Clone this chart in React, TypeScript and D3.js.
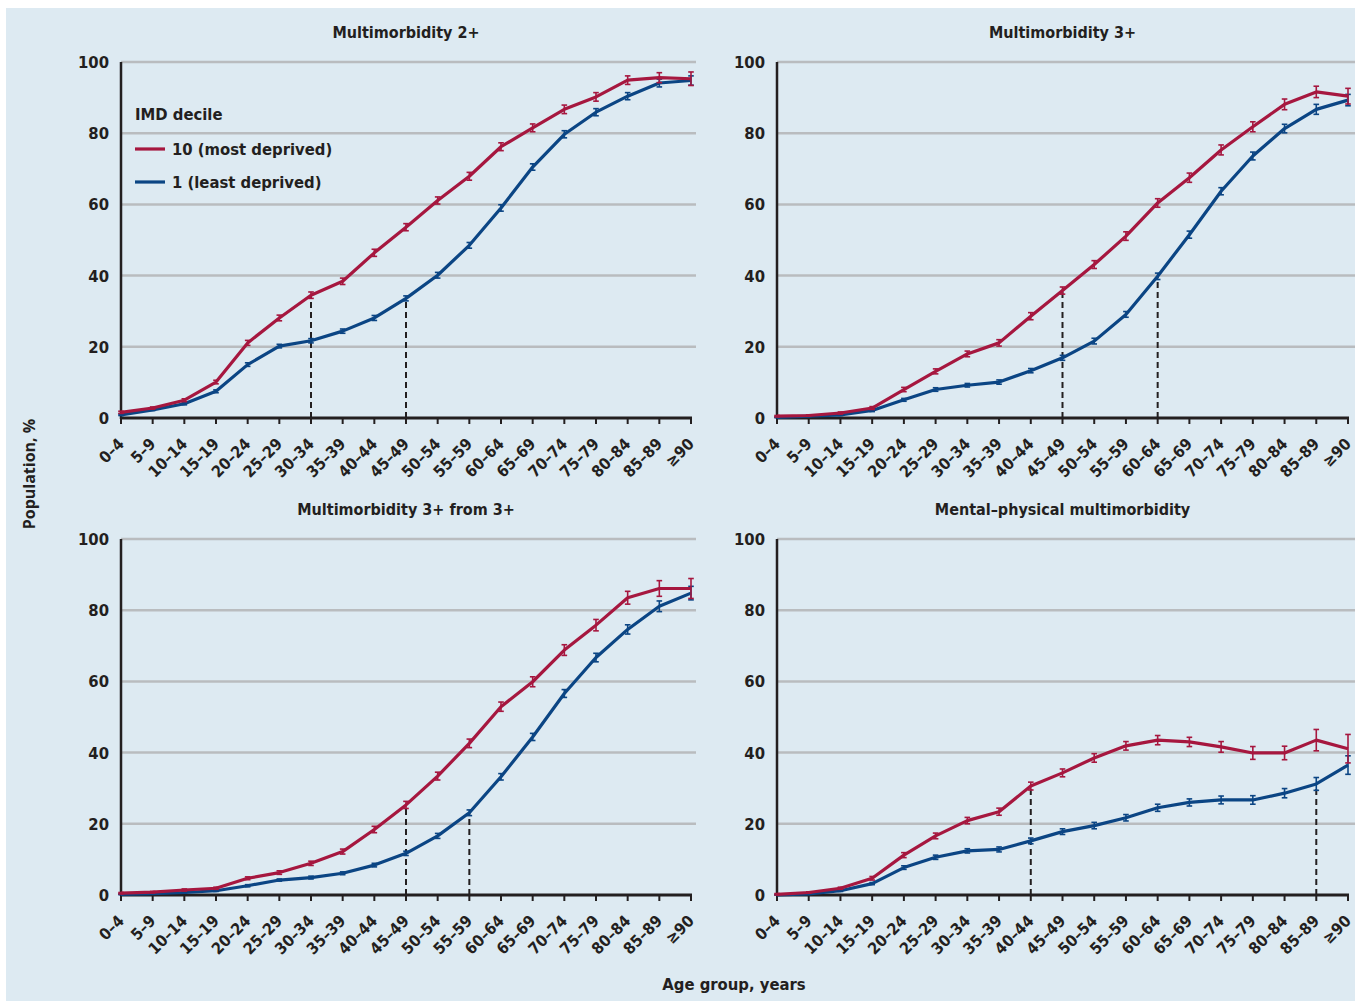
import * as d3 from "d3";

const AGES = [
  "0–4", "5–9", "10–14", "15–19", "20–24", "25–29", "30–34", "35–39", "40–44",
  "45–49", "50–54", "55–59", "60–64", "65–69", "70–74", "75–79", "80–84", "85–89", "≥90",
];
const Y_TICKS = [0, 20, 40, 60, 80, 100];
const TITLES = [
  "Multimorbidity 2+",
  "Multimorbidity 3+",
  "Multimorbidity 3+ from 3+",
  "Mental–physical multimorbidity",
];

// IMD decile 10 (most deprived)
const MOST_2 = [1.6, 2.8, 5.0, 10.1, 21.1, 28.1, 34.5, 38.4, 46.4, 53.6, 61.1, 67.9, 76.2, 81.5, 86.7, 90.2, 94.9, 95.6, 95.3];
const MOST_3 = [0.5, 0.7, 1.4, 2.8, 8.0, 13.1, 18.0, 21.1, 28.6, 35.8, 43.1, 51.1, 60.4, 67.5, 75.3, 81.8, 88.1, 91.6, 90.4];
const MOST_33 = [0.5, 0.8, 1.4, 1.9, 4.7, 6.3, 8.9, 12.2, 18.4, 25.3, 33.4, 42.6, 52.9, 59.9, 68.8, 75.8, 83.5, 86.1, 86.1];
const MOST_MP = [0.2, 0.7, 1.9, 4.7, 11.2, 16.6, 20.9, 23.4, 30.6, 34.3, 38.5, 41.9, 43.5, 43.0, 41.6, 39.9, 39.9, 43.5, 41.1];

// IMD decile 1 (least deprived)
const LEAST_2 = [0.9, 2.3, 4.0, 7.5, 15.0, 20.2, 21.7, 24.4, 28.1, 33.6, 40.1, 48.5, 59.0, 70.5, 79.7, 85.9, 90.4, 94.1, 94.8];
const LEAST_3 = [0.2, 0.5, 0.9, 2.1, 5.1, 8.0, 9.2, 10.1, 13.3, 16.9, 21.6, 29.1, 39.8, 51.5, 63.7, 73.6, 81.3, 86.7, 89.3];
const LEAST_33 = [0.2, 0.4, 0.7, 1.2, 2.6, 4.2, 4.9, 6.1, 8.4, 11.7, 16.6, 23.1, 33.2, 44.4, 56.6, 66.7, 74.6, 81.1, 84.8];
const LEAST_MP = [0.0, 0.3, 1.2, 3.2, 7.7, 10.6, 12.4, 12.8, 15.2, 17.8, 19.5, 21.7, 24.5, 26.0, 26.7, 26.7, 28.6, 31.2, 36.5];

// half-width of the error bars
const MOST_ERR_2 = [0.3, 0.3, 0.4, 0.5, 0.7, 0.8, 0.9, 0.9, 1.0, 1.0, 1.0, 1.1, 1.1, 1.1, 1.2, 1.2, 1.2, 1.4, 1.9];
const MOST_ERR_3 = [0.2, 0.2, 0.3, 0.4, 0.6, 0.7, 0.8, 0.9, 1.0, 1.0, 1.1, 1.2, 1.2, 1.3, 1.4, 1.4, 1.5, 1.6, 2.2];
const MOST_ERR_33 = [0.2, 0.2, 0.3, 0.3, 0.4, 0.5, 0.6, 0.7, 0.9, 1.0, 1.1, 1.2, 1.3, 1.4, 1.5, 1.6, 1.8, 2.2, 2.8];
const MOST_ERR_MP = [0.2, 0.2, 0.3, 0.5, 0.7, 0.8, 0.9, 1.0, 1.1, 1.1, 1.2, 1.2, 1.3, 1.3, 1.5, 1.8, 1.9, 3.0, 4.0];
const LEAST_ERR_2 = [0.2, 0.2, 0.3, 0.4, 0.5, 0.5, 0.6, 0.6, 0.7, 0.7, 0.8, 0.8, 0.9, 0.9, 1.0, 1.0, 1.0, 1.1, 1.3];
const LEAST_ERR_3 = [0.1, 0.1, 0.2, 0.3, 0.4, 0.5, 0.5, 0.6, 0.6, 0.7, 0.8, 0.8, 0.9, 1.0, 1.0, 1.1, 1.2, 1.4, 1.6];
const LEAST_ERR_33 = [0.1, 0.1, 0.2, 0.2, 0.3, 0.3, 0.4, 0.4, 0.5, 0.6, 0.7, 0.8, 0.9, 1.0, 1.1, 1.2, 1.3, 1.5, 1.9];
const LEAST_ERR_MP = [0.1, 0.1, 0.2, 0.3, 0.5, 0.6, 0.6, 0.7, 0.8, 0.8, 0.9, 0.9, 1.0, 1.0, 1.1, 1.2, 1.3, 1.8, 2.6];

// dashed reference lines: [age index on most deprived, age index on least deprived]
const DASH_REFS: [number, number][] = [
  [6, 9],
  [9, 12],
  [9, 11],
  [8, 17],
];

const MOST = [MOST_2, MOST_3, MOST_33, MOST_MP];
const LEAST = [LEAST_2, LEAST_3, LEAST_33, LEAST_MP];
const MOST_ERR = [MOST_ERR_2, MOST_ERR_3, MOST_ERR_33, MOST_ERR_MP];
const LEAST_ERR = [LEAST_ERR_2, LEAST_ERR_3, LEAST_ERR_33, LEAST_ERR_MP];

const W = 1355;
const H = 1001;
const RED = "#a6173f";
const BLUE = "#0b4584";
const INK = "#231f20";
const GRID = "#b9bcbf";
const BG = "#ddeaf2";
const FONT = "'DejaVu Sans Condensed', 'DejaVu Sans', sans-serif";

// panel frames: left/right x of plot, top/bottom y, and where gridlines stop
const COLS = [
  { x0: 121, x1: 691, gridEnd: 696 },
  { x0: 777, x1: 1348, gridEnd: 1355 },
];
const ROWS = [
  { top: 62, bottom: 418 },
  { top: 539, bottom: 895 },
];

function Panel({ idx }: { idx: number }) {
  const col = COLS[idx % 2];
  const row = ROWS[Math.floor(idx / 2)];
  const x = d3.scalePoint<string>().domain(AGES).range([col.x0, col.x1]);
  const y = d3.scaleLinear().domain([0, 100]).range([row.bottom, row.top]);

  const line = d3
    .line<number>()
    .x((_, i) => x(AGES[i]) as number)
    .y((d) => y(d));

  const series = [
    { values: LEAST[idx], err: LEAST_ERR[idx], color: BLUE },
    { values: MOST[idx], err: MOST_ERR[idx], color: RED },
  ];

  const [ri, bi] = DASH_REFS[idx];
  const dashes = [
    { i: ri, v: MOST[idx][ri] },
    { i: bi, v: LEAST[idx][bi] },
  ];

  return (
    <g>
      <text
        x={(col.x0 + col.x1) / 2}
        y={row.top - 24}
        textAnchor="middle"
        fontSize={16}
        fontWeight="bold"
        fill={INK}
      >
        {TITLES[idx]}
      </text>

      {Y_TICKS.filter((t) => t > 0).map((t) => (
        <line
          key={t}
          x1={col.x0}
          x2={col.gridEnd}
          y1={y(t)}
          y2={y(t)}
          stroke={GRID}
          strokeWidth={2.5}
        />
      ))}
      {Y_TICKS.map((t) => (
        <text
          key={t}
          x={col.x0 - 12}
          y={y(t)}
          dy="0.36em"
          textAnchor="end"
          fontSize={16.5}
          fontWeight="bold"
          fill={INK}
        >
          {t}
        </text>
      ))}

      {dashes.map((d, k) => (
        <line
          key={k}
          x1={x(AGES[d.i])}
          x2={x(AGES[d.i])}
          y1={y(0)}
          y2={y(d.v)}
          stroke={INK}
          strokeWidth={2}
          strokeDasharray="6,4"
        />
      ))}

      <line x1={col.x0} x2={col.x0} y1={y(0) + 1} y2={y(100)} stroke={INK} strokeWidth={2.5} />
      <line x1={col.x0 - 1} x2={col.x1 + 1} y1={y(0)} y2={y(0)} stroke={INK} strokeWidth={3} />
      {AGES.map((a) => (
        <g key={a}>
          <line
            x1={x(a)}
            x2={x(a)}
            y1={y(0)}
            y2={y(0) + 6}
            stroke={INK}
            strokeWidth={2}
          />
          <text
            transform={`translate(${(x(a) as number) + 4},${y(0) + 27}) rotate(-45)`}
            textAnchor="end"
            fontSize={16}
            fontWeight="bold"
            fill={INK}
          >
            {a}
          </text>
        </g>
      ))}

      {series.map((s, k) => (
        <g key={k}>
          <path d={line(s.values) || ""} fill="none" stroke={s.color} strokeWidth={3.2} strokeLinejoin="round" />
          {s.values.map((v, i) => {
            const cx = x(AGES[i]) as number;
            const lo = y(Math.max(0, v - s.err[i]));
            const hi = y(v + s.err[i]);
            return (
              <g key={i} stroke={s.color} strokeWidth={1.6}>
                <line x1={cx} x2={cx} y1={lo} y2={hi} />
                <line x1={cx - 2.8} x2={cx + 2.8} y1={lo} y2={lo} />
                <line x1={cx - 2.8} x2={cx + 2.8} y1={hi} y2={hi} />
              </g>
            );
          })}
        </g>
      ))}
    </g>
  );
}

export default function App() {
  return (
    <svg
      width={W}
      height={H}
      style={{ position: "absolute", left: 0, top: 0, fontFamily: FONT }}
    >
      <rect x={0} y={0} width={W} height={H} fill="#ffffff" />
      <rect x={6} y={8} width={W - 6} height={H - 8} fill={BG} />

      {[0, 1, 2, 3].map((i) => (
        <Panel key={i} idx={i} />
      ))}

      {/* legend */}
      <g fontWeight="bold" fill={INK}>
        <text x={135} y={120} fontSize={16.5}>IMD decile</text>
        <line x1={135} x2={165} y1={149} y2={149} stroke={RED} strokeWidth={3.2} />
        <text x={172} y={149} dy="0.36em" fontSize={16.5}>10 (most deprived)</text>
        <line x1={135} x2={165} y1={182} y2={182} stroke={BLUE} strokeWidth={3.2} />
        <text x={172} y={182} dy="0.36em" fontSize={16.5}>1 (least deprived)</text>
      </g>

      <text
        transform="translate(35,474) rotate(-90)"
        textAnchor="middle"
        fontSize={16}
        fontWeight="bold"
        fill={INK}
        style={{ fontFamily: "'Open Sans', 'DejaVu Sans', sans-serif" }}
      >
        Population, %
      </text>
      <text x={734} y={990} textAnchor="middle" fontSize={16.5} fontWeight="bold" fill={INK}>
        Age group, years
      </text>
    </svg>
  );
}
